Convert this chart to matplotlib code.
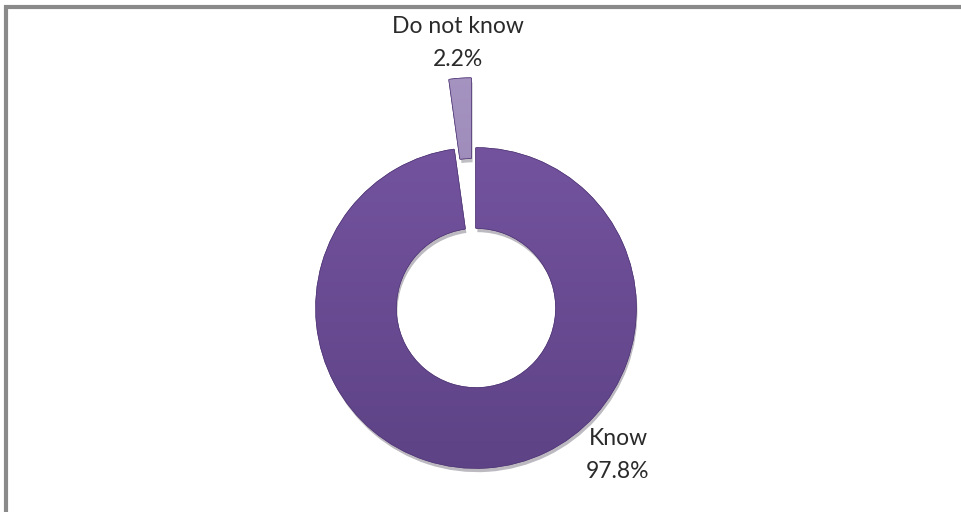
import numpy as np
import matplotlib.pyplot as plt
from matplotlib.patches import Rectangle
from matplotlib.colors import LinearSegmentedColormap
import matplotlib.patheffects as pe

labels = ['Know', 'Do not know']
shares = [97.8, 2.2]
colors = ['#71529c', '#9885b6']
# top -> bottom shading of each ring piece
shades = [('#7a58a6', '#5d4285'), ('#a795c2', '#8a76aa')]

fig = plt.figure(figsize=(9.62, 5.12), dpi=100)
ax = fig.add_axes([0, 0, 1, 1])

# Frame (only top/left edges fall inside the picture)
ax.add_patch(Rectangle((6, -20), 1000, 525, fill=False, ec='#8a8a8a', lw=3))

# explode is in data units here (pixels)
wedges, _ = ax.pie(shares, colors=colors, startangle=90, counterclock=False,
                   center=(476, 204), radius=160, explode=[0, 70],
                   wedgeprops=dict(width=80, edgecolor='#553b7a', linewidth=1),
                   frame=True)
for w, (top, bottom) in zip(wedges, shades):
    w.set_path_effects([pe.withSimplePatchShadow(offset=(1, -3), alpha=0.3),
                        pe.Normal()])
    cmap = LinearSegmentedColormap.from_list('shade', [bottom, top])
    grad = np.linspace(0, 1, 256).reshape(-1, 1)
    img = ax.imshow(grad, cmap=cmap, origin='lower', aspect='auto',
                    extent=(0, 962, 30, 470), zorder=w.get_zorder() + 0.1)
    img.set_clip_path(w)
ax.set_xlim(0, 962)
ax.set_ylim(0, 512)
ax.axis('off')

font = dict(family='Lato', fontsize=16.5, color='#2a2a2a', ha='center', va='center', linespacing=1.65)
ax.text(458, 512 - 43, f'{labels[1]}\n{shares[1]}%', **font)
ax.text(618, 512 - 455, f'{labels[0]}\n{shares[0]}%', **font)

fig.savefig('out.png', dpi=100)
